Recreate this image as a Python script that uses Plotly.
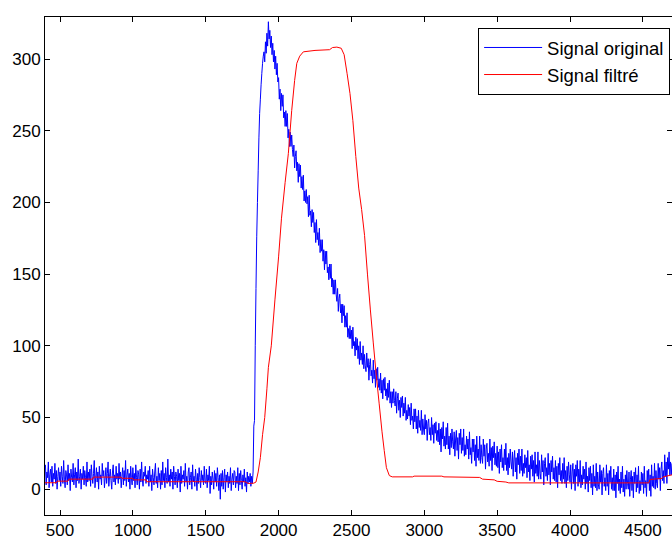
import plotly.graph_objects as go

# ---- data ----
blue_x0 = 400
blue_step = 5
blue_y = [
    # 400 - 1795 : noisy baseline
    17, 3, 12, 8, 19, 1, 10, 14, 5, 16, 2, 11, 7, 18, 4, 13, 0, 9, 15, 6,
    12, 2, 16, 9, 4, 20, 7, 1, 13, 10, 3, 17, 6, 11, -1, 14, 8, 5, 18, 3,
    10, 15, 1, 12, 6, 21, 4, 9, 14, 0, 11, 7, 16, 3, 13, 8, 2, 19, 5, 12,
    6, 14, 2, 17, 9, 4, 11, 20, 1, 8, 15, 5, 12, 0, 16, 7, 10, 3, 18, 9,
    13, 1, 8, 15, 4, 11, 19, 2, 9, 14, 6, 0, 12, 17, 5, 10, 3, 16, 7, 11,
    4, 18, 7, 12, 1, 9, 15, 3, 13, 6, 20, 2, 10, 14, 5, 11, 0, 16, 8, 3,
    15, 6, 11, 1, 17, 8, 3, 13, 10, 0, 14, 5, 19, 7, 2, 12, 9, 16, 4, 10,
    7, 13, 2, 16, 5, 10, -1, 14, 8, 3, 12, 18, 4, 9, 1, 15, 6, 11, 0, 13,
    3, 19, 6, 11, 1, 15, 8, 4, 21, 5, 10, 2, 14, 7, 12, 0, 16, 9, 3, 12,
    9, 1, 14, 6, 11, -2, 16, 4, 10, 7, 13, 2, 18, 5, 9, 0, 12, 15, 3, 8,
    12, 0, 17, 5, 9, 2, 14, 7, -1, 11, 4, 15, 8, 1, 13, 6, 10, 3, 16, 5,
    4, 14, 1, 10, 6, 16, -3, 9, 3, 12, 7, 0, 13, 5, 11, 2, 15, 8, -1, 10,
    -7, 11, 2, 13, 0, 8, 14, -2, 10, 5, 12, 1, 9, 4, 15, -1, 7, 11, 3, 13,
    12, 1, 9, 4, 15, -1, 11, 3, 13, 6, 0, 10, 5, 14, 2, 8, -2, 12, 4, 9,
    # 1800 - 1995 : rise and peak
    5, 11, 2, 9, 4, 12, 44, 48, 100, 140, 176, 200, 222, 245, 262, 272, 282, 290, 297, 302,
    305, 298, 312, 304, 318, 309, 326, 314, 320, 308, 316, 303, 311, 298, 306, 293, 302, 289, 297, 284,
    # 2000 - 4700 : decay
    287, 272, 279, 264, 276, 267, 275, 259, 263, 253, 264, 253, 262, 245, 251, 239, 249, 239, 247, 237,
    232, 240, 224, 232, 236, 222, 228, 214, 227, 218, 226, 210, 218, 209, 219, 201, 208, 200, 209, 199,
    204, 190, 205, 191, 194, 183, 195, 186, 193, 179, 186, 172, 188, 174, 179, 170, 182, 165, 174, 166,
    174, 159, 167, 153, 166, 157, 166, 151, 155, 146, 157, 147, 157, 141, 147, 136, 146, 136, 146, 136,
    131, 140, 124, 133, 136, 123, 129, 116, 129, 121, 128, 113, 121, 113, 123, 106, 112, 105, 114, 105,
    111, 98, 113, 100, 103, 93, 106, 97, 105, 91, 100, 87, 103, 90, 95, 87, 100, 84, 94, 86,
    82, 95, 85, 91, 76, 87, 91, 79, 83, 74, 90, 77, 83, 71, 84, 76, 85, 71, 77, 69,
    81, 67, 76, 63, 77, 69, 78, 65, 70, 62, 74, 64, 76, 60, 68, 57, 68, 60, 70, 62,
    58, 68, 53, 63, 67, 55, 62, 50, 64, 57, 65, 51, 60, 53, 64, 48, 55, 49, 59, 51,
    57, 45, 60, 48, 51, 42, 56, 47, 56, 42, 51, 39, 55, 43, 48, 41, 55, 38, 49, 42,
    38, 52, 42, 48, 34, 46, 49, 38, 43, 34, 50, 38, 45, 32, 46, 39, 47, 34, 41, 33,
    46, 31, 42, 26, 43, 35, 47, 30, 37, 28, 43, 31, 46, 28, 37, 24, 39, 29, 42, 33,
    28, 40, 23, 35, 41, 27, 36, 21, 39, 31, 42, 25, 36, 27, 42, 23, 31, 24, 37, 28,
    35, 21, 40, 24, 29, 18, 35, 26, 35, 20, 31, 16, 37, 22, 28, 20, 37, 18, 31, 22,
    18, 35, 23, 31, 14, 28, 32, 19, 25, 16, 35, 20, 29, 13, 30, 22, 33, 17, 25, 16,
    30, 15, 26, 11, 28, 19, 31, 15, 22, 13, 28, 17, 32, 13, 22, 10, 25, 15, 28, 19,
    14, 26, 9, 21, 27, 12, 22, 7, 25, 17, 28, 11, 23, 13, 28, 9, 18, 11, 24, 15,
    22, 8, 27, 12, 17, 6, 23, 14, 24, 9, 20, 5, 26, 11, 17, 9, 26, 7, 20, 11,
    7, 24, 12, 20, 3, 18, 22, 9, 15, 6, 25, 10, 18, 3, 20, 12, 23, 7, 15, 6,
    20, 5, 16, 1, 18, 10, 22, 6, 13, 4, 18, 7, 22, 4, 13, 1, 16, 6, 19, 10,
    5, 17, 0, 12, 18, 4, 14, -1, 17, 9, 20, 2, 14, 5, 20, 1, 10, 3, 16, 7,
    14, 0, 19, 4, 9, -2, 15, 6, 16, 1, 11, -4, 17, 2, 9, 1, 18, -1, 12, 3,
    0, 17, 5, 13, -4, 11, 15, 2, 8, -1, 17, 2, 11, -4, 13, 5, 16, 0, 8, -1,
    14, -1, 10, -6, 12, 4, 16, -1, 7, -3, 12, 1, 16, -2, 7, -5, 10, 0, 13, 4,
    0, 12, -5, 7, 13, -1, 9, -6, 12, 4, 15, -2, 10, 1, 16, -3, 6, -1, 12, 3,
    11, -3, 16, 1, 6, -5, 13, 4, 14, -1, 10, -5, 17, 2, 9, 1, 18, 0, 13, 4,
    1, 18, 7, 15, -1, 14, 19, 6, 13, 4, 24, 9, 19, 4, 22, 14, 26, 10, 19, 10,
    18,
]
blue_x = [blue_x0 + blue_step * i for i in range(len(blue_y))]

red_x = [397, 475, 480, 555, 560, 725, 730, 920, 925, 1000, 1005, 1090, 1095,
         1400, 1405, 1420, 1770, 1790, 1830, 1845, 1860, 1875, 1890, 1905,
         1920, 1930, 1950, 1975, 2000, 2020, 2045, 2067, 2090, 2110, 2125,
         2145, 2170, 2250, 2350, 2370, 2400, 2430, 2450, 2470, 2490, 2510,
         2530, 2550, 2570, 2590, 2610, 2630, 2650, 2670, 2690, 2710, 2725,
         2740, 2760, 2780, 2920, 2930, 3120, 3135, 3380, 3400, 3480, 3500,
         3560, 3580, 4540, 4550, 4630, 4640, 4700]
red_y = [4.5, 4.5, 5.6, 5.6, 7, 7, 8.4, 8.4, 7.6, 7.6, 6.5, 6.5, 5.2,
         5.2, 5.8, 5.2, 5.2, 4, 4.2, 5, 12, 22, 38, 50,
         70, 85, 100, 132, 162, 189, 214, 234, 264, 285, 297,
         302, 305, 306, 306.5, 308, 308.3, 307.5, 303, 290, 276, 257,
         232, 210, 195, 177, 150, 125, 102, 80, 60, 40, 27,
         15, 9.5, 8.6, 8.6, 9.1, 9.1, 8.6, 8.2, 7, 6.5, 5.5,
         5, 4.4, 4.4, 6.8, 7.5, 8.6, 10]

x_ticks = [500, 1000, 1500, 2000, 2500, 3000, 3500, 4000, 4500]
y_ticks = [0, 50, 100, 150, 200, 250, 300]
series_names = ["Signal original", "Signal filtré"]

# ---- figure ----
fig = go.Figure()
fig.add_trace(go.Scatter(x=blue_x, y=blue_y, mode="lines", name=series_names[0],
                         line=dict(color="#0000FF", width=1, simplify=False)))
fig.add_trace(go.Scatter(x=red_x, y=red_y, mode="lines", name=series_names[1],
                         line=dict(color="#FF0000", width=1, simplify=False)))

axis_common = dict(showgrid=False, zeroline=False, showline=True, linecolor="black",
                   linewidth=1, mirror="ticks", ticks="inside", ticklen=5,
                   tickcolor="black", tickwidth=1)
fig.update_xaxes(range=[397, 4700], tickvals=x_ticks, **axis_common)
fig.update_yaxes(range=[-18, 329.3], tickvals=y_ticks, **axis_common)

fig.update_layout(
    width=672, height=541,
    margin=dict(l=45, r=0, t=17, b=26),
    plot_bgcolor="white", paper_bgcolor="white",
    font=dict(family="Liberation Sans, Arial, sans-serif", size=17, color="black"),
    legend=dict(x=0.997, y=0.978, xanchor="right", yanchor="top",
                bgcolor="white", bordercolor="black", borderwidth=1,
                font=dict(size=18.5), itemwidth=58, tracegroupgap=0),
)

fig.write_html("out.html", config={"displayModeBar": False},
               post_script="document.body.style.margin='0px';document.body.style.overflow='hidden';")
